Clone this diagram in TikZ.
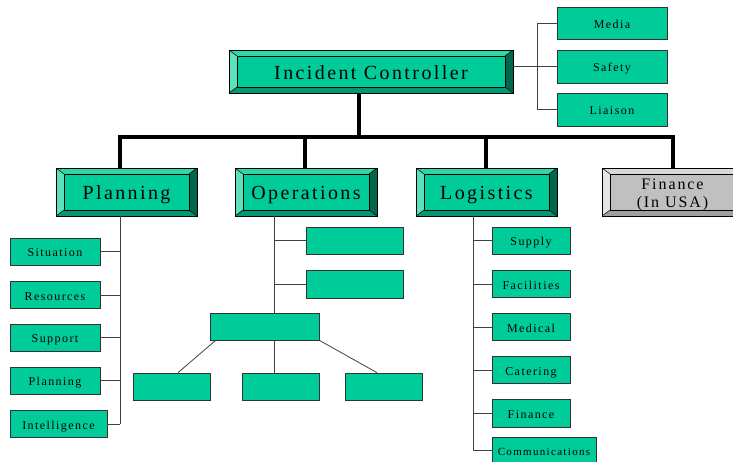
\documentclass[tikz,border=0pt]{standalone}
\usepackage{fontspec}
\setmainfont{Liberation Serif}
\newfontfamily\spacedfont[LetterSpace=12]{Liberation Serif}
\usepackage{xcolor}
\usetikzlibrary{positioning,calc}

\definecolor{ictgreen}{HTML}{00CC99}
\definecolor{bevlite}{HTML}{5CE0BE}
\definecolor{bevtop}{HTML}{33D4A6}
\definecolor{bevdark}{HTML}{00664C}
\definecolor{bevbot}{HTML}{009973}
\definecolor{fingrey}{HTML}{C0C0C0}
\definecolor{greylite}{HTML}{E6E6E6}
\definecolor{greytop}{HTML}{D9D9D9}
\definecolor{greydark}{HTML}{808080}
\definecolor{greybot}{HTML}{A0A0A0}

% bevelled frame painted inside a node: left, top, right, bottom colours
\newcommand{\bevelpaint}[4]{%
  \fill[#1] (path picture bounding box.north west)
    -- ([shift={(8pt,-6pt)}]path picture bounding box.north west)
    -- ([shift={(8pt,6pt)}]path picture bounding box.south west)
    -- (path picture bounding box.south west) -- cycle;
  \fill[#2] (path picture bounding box.north west)
    -- (path picture bounding box.north east)
    -- ([shift={(-8pt,-6pt)}]path picture bounding box.north east)
    -- ([shift={(8pt,-6pt)}]path picture bounding box.north west) -- cycle;
  \fill[#3] (path picture bounding box.north east)
    -- ([shift={(-8pt,-6pt)}]path picture bounding box.north east)
    -- ([shift={(-8pt,6pt)}]path picture bounding box.south east)
    -- (path picture bounding box.south east) -- cycle;
  \fill[#4] (path picture bounding box.south west)
    -- ([shift={(8pt,6pt)}]path picture bounding box.south west)
    -- ([shift={(-8pt,6pt)}]path picture bounding box.south east)
    -- (path picture bounding box.south east) -- cycle;
  \draw[line width=0.5pt] ([shift={(8pt,-6pt)}]path picture bounding box.north west)
    rectangle ([shift={(-8pt,6pt)}]path picture bounding box.south east);
  \draw[line width=0.5pt]
    (path picture bounding box.north west) -- ([shift={(8pt,-6pt)}]path picture bounding box.north west)
    (path picture bounding box.north east) -- ([shift={(-8pt,-6pt)}]path picture bounding box.north east)
    (path picture bounding box.south west) -- ([shift={(8pt,6pt)}]path picture bounding box.south west)
    (path picture bounding box.south east) -- ([shift={(-8pt,6pt)}]path picture bounding box.south east);
}

\begin{document}
\begin{tikzpicture}[x=1pt, y=-1pt,
    headbox/.style={draw=black, line width=0.7pt, fill=ictgreen, inner sep=0pt,
      minimum width=141pt, minimum height=48pt, text height=15pt, text depth=0pt,
      font=\spacedfont\fontsize{20}{22}\selectfont,
      path picture={\bevelpaint{bevlite}{bevtop}{bevdark}{bevbot}}},
    finbox/.style={headbox, fill=fingrey, align=center, text height=, text depth=,
      font=\spacedfont\fontsize{16}{18}\selectfont,
      path picture={\bevelpaint{greylite}{greytop}{greydark}{greybot}}},
    subbox/.style={draw=black!80, line width=0.7pt, fill=ictgreen, inner sep=0pt,
      minimum width=78pt, minimum height=27pt, text height=10pt, text depth=0pt,
      font=\spacedfont\fontsize{12}{14}\selectfont},
    trunk/.style={line width=4pt},
    twig/.style={line width=0.8pt, black!75}]
\useasboundingbox (0,0) rectangle (733,461);

% ==== Controller and staff ====
\node[headbox, minimum width=284pt, minimum height=43pt] (ic) at (371, 71.5) {Incident Controller};
\node[subbox, minimum width=110pt, minimum height=32pt] (media)   at (612, 23)    {Media};
\node[subbox, minimum width=110pt, minimum height=33pt] (safety)  at (612, 66.5)  {Safety};
\node[subbox, minimum width=110pt, minimum height=33pt] (liaison) at (612, 109.5) {Liaison};
\coordinate (sj) at (537, 66.5);
\draw[twig] (ic.east |- safety.west) -- (safety.west);
\draw[twig] (media.west) -- (media.west -| sj) -- (liaison.west -| sj) -- (liaison.west);

% ==== Section heads ====
\node[headbox] (plan) at (126.5, 192) {Planning};
\node[headbox, minimum width=142pt] (ops) at (306, 192) {Operations};
\node[headbox] (logi) at (486.5, 192) {Logistics};
\node[finbox] (fin) at (672.5, 192) {\rule{0pt}{17pt}Finance\\(In USA)};

% ==== Main trunk ====
\coordinate (tj) at (359, 137);
\coordinate (pd) at (120, 137);
\coordinate (od) at (305, 137);
\coordinate (ld) at (486, 137);
\coordinate (fd) at (673, 137);
\draw[trunk] (ic.south -| tj) -- (tj);
\draw[trunk] (plan.north -| pd) -- (pd) -- (fd) -- (fin.north -| fd);
\draw[trunk] (ops.north -| od) -- (od);
\draw[trunk] (logi.north -| ld) -- (ld);

% ==== Planning cells ====
\node[subbox, minimum width=90pt] (situ)  at (55, 251.5) {Situation};
\node[subbox, minimum width=90pt] (reso)  at (55, 295)   {Resources};
\node[subbox, minimum width=90pt] (supp)  at (55, 337.5) {Support};
\node[subbox, minimum width=90pt] (pcell) at (55, 380.5) {Planning};
\node[subbox, minimum width=97pt] (intel) at (58.5, 424) {Intelligence};
\draw[twig] (plan.south -| pd) -- (intel.east -| pd);
\foreach \cell in {situ, reso, supp, pcell, intel}
  \draw[twig] (\cell.east) -- (\cell.east -| pd);

% ==== Operations cells (unlabelled) ====
\coordinate (ov) at (274, 216);
\node[subbox, minimum width=97pt] (ops1) at (354.5, 240.5) {};
\node[subbox, minimum width=97pt, minimum height=28pt] (ops2) at (354.5, 284) {};
\node[subbox, minimum width=109pt] (opsm) at (264.5, 326.5) {};
\node[subbox, minimum width=77pt] (opsa) at (171.5, 386.5) {};
\node[subbox, minimum width=77pt] (opsb) at (280.5, 386.5) {};
\node[subbox, minimum width=77pt] (opsc) at (383.5, 386.5) {};
\draw[twig] (ops.south -| ov) -- (opsm.north -| ov);
\draw[twig] (ops1.west) -- (ops1.west -| ov);
\draw[twig] (ops2.west) -- (ops2.west -| ov);
\draw[twig] ([xshift=6pt]opsm.south west) -- ([xshift=6.5pt]opsa.north);
\draw[twig] (opsm.south -| ov) -- (opsb.north -| ov);
\draw[twig] (opsm.south east) -- ([xshift=-6.5pt]opsc.north);

% ==== Logistics cells ====
\coordinate (lv) at (473, 216);
\node[subbox] (supply) at (531, 240.5) {Supply};
\node[subbox] (facil)  at (531, 284)   {Facilities};
\node[subbox] (medic)  at (531, 327)   {Medical};
\node[subbox] (cater)  at (531, 370)   {Catering};
\node[subbox, minimum height=28pt] (lfin) at (531, 413) {Finance};
\node[subbox, minimum width=104pt, font=\spacedfont\fontsize{11}{13}\selectfont] (comm) at (544, 450.5) {Communications};
\draw[twig] (logi.south -| lv) -- (comm.west -| lv);
\foreach \cell in {supply, facil, medic, cater, lfin, comm}
  \draw[twig] (\cell.west) -- (\cell.west -| lv);
\end{tikzpicture}
\end{document}
